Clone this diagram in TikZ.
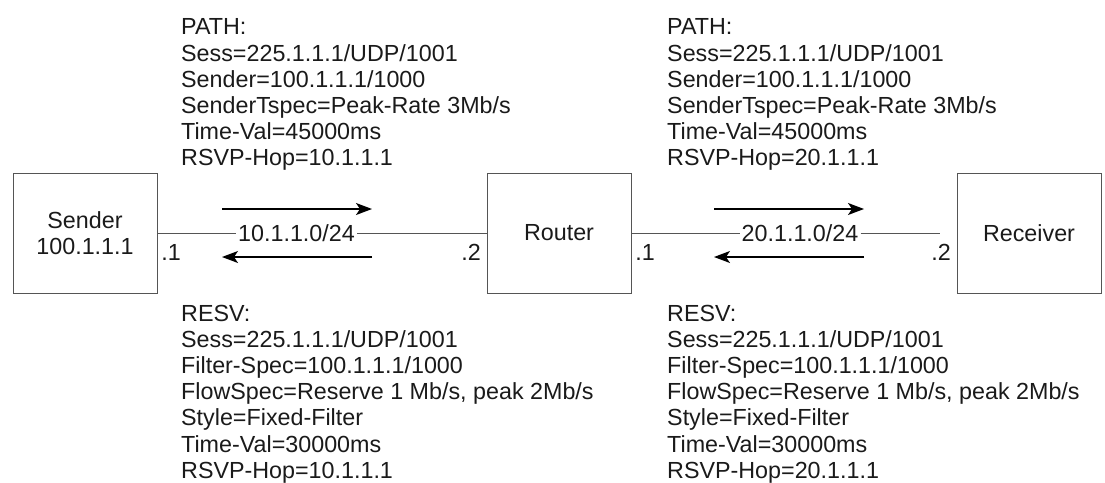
\documentclass[tikz,border=0pt]{standalone}
\usepackage{fontspec}
\setmainfont{Liberation Sans}
\usetikzlibrary{arrows.meta}

\definecolor{LineGray}{HTML}{555555}
\definecolor{TextGray}{HTML}{1A1A1A}

\begin{document}
\begin{tikzpicture}[x=1pt, y=-1pt, text=TextGray,
  host/.style={draw=LineGray, line width=1pt, minimum width=144pt, minimum height=120pt, inner sep=0pt, align=center, font=\fontsize{23.3}{26.5}\selectfont},
  msg/.style={anchor=north west, align=left, inner sep=0pt, font=\fontsize{23.3}{26.2}\selectfont},
  net/.style={inner sep=2pt, font=\fontsize{23.3}{26}\selectfont},
  port/.style={inner sep=0pt, font=\fontsize{23.3}{26}\selectfont},
  flow/.style={line width=1.3pt, -{Stealth[length=16pt, width=12pt, inset=4pt]}}]

 \useasboundingbox (0,0) rectangle (1105,482);

 %%%%%%%%%% Points pour les fleches %%%%%%%%%%
 \coordinate (p1) at (222,209);
 \coordinate (p2) at (372,209);
 \coordinate (p3) at (372,257);
 \coordinate (p4) at (222,257);
 \coordinate (q1) at (714,209);
 \coordinate (q2) at (864,209);
 \coordinate (q3) at (864,257);
 \coordinate (q4) at (714,257);
 \coordinate (lend) at (940,233);

 % Hosts
 \node[host] (sender) at (85,233) {Sender\\100.1.1.1};
 \node[host] (router) at (559,233) {Router};
 \node[host] (receiver) at (1029,233) {Receiver};

 % Links
 \node[net] (net1) at (296.5,233) {10.1.1.0/24};
 \node[net] (net2) at (800,233) {20.1.1.0/24};
 \draw[LineGray, line width=1pt] (sender.east) -- (net1.west) ;
 \draw[LineGray, line width=1pt] (net1.east) -- (router.west) ;
 \draw[LineGray, line width=1pt] (router.east) -- (net2.west) ;
 \draw[LineGray, line width=1pt] (net2.east) -- (lend) ;

 % Interfaces
 \node[port] (s1) at (171,252) {.1};
 \node[port] (r2) at (471,252) {.2};
 \node[port] (r1) at (645,252) {.1};
 \node[port] (d2) at (941,252) {.2};

 % PATH / RESV
 \draw[flow] (p1) -- (p2) ;
 \draw[flow] (p3) -- (p4) ;
 \draw[flow] (q1) -- (q2) ;
 \draw[flow] (q3) -- (q4) ;

 %%%%%%%%%% Messages %%%%%%%%%%
 \node[msg] (path1) at (181,18.6) {PATH:\\Sess=225.1.1.1/UDP/1001\\Sender=100.1.1.1/1000\\SenderTspec=Peak-Rate 3Mb/s\\Time-Val=45000ms\\RSVP-Hop=10.1.1.1};
 \node[msg] (path2) at (667,18.6) {PATH:\\Sess=225.1.1.1/UDP/1001\\Sender=100.1.1.1/1000\\SenderTspec=Peak-Rate 3Mb/s\\Time-Val=45000ms\\RSVP-Hop=20.1.1.1};
 \node[msg] (resv1) at (181,304.6) {RESV:\\Sess=225.1.1.1/UDP/1001\\Filter-Spec=100.1.1.1/1000\\FlowSpec=Reserve 1 Mb/s, peak 2Mb/s\\Style=Fixed-Filter\\Time-Val=30000ms\\RSVP-Hop=10.1.1.1};
 \node[msg] (resv2) at (667,304.6) {RESV:\\Sess=225.1.1.1/UDP/1001\\Filter-Spec=100.1.1.1/1000\\FlowSpec=Reserve 1 Mb/s, peak 2Mb/s\\Style=Fixed-Filter\\Time-Val=30000ms\\RSVP-Hop=20.1.1.1};

\end{tikzpicture}
\end{document}
